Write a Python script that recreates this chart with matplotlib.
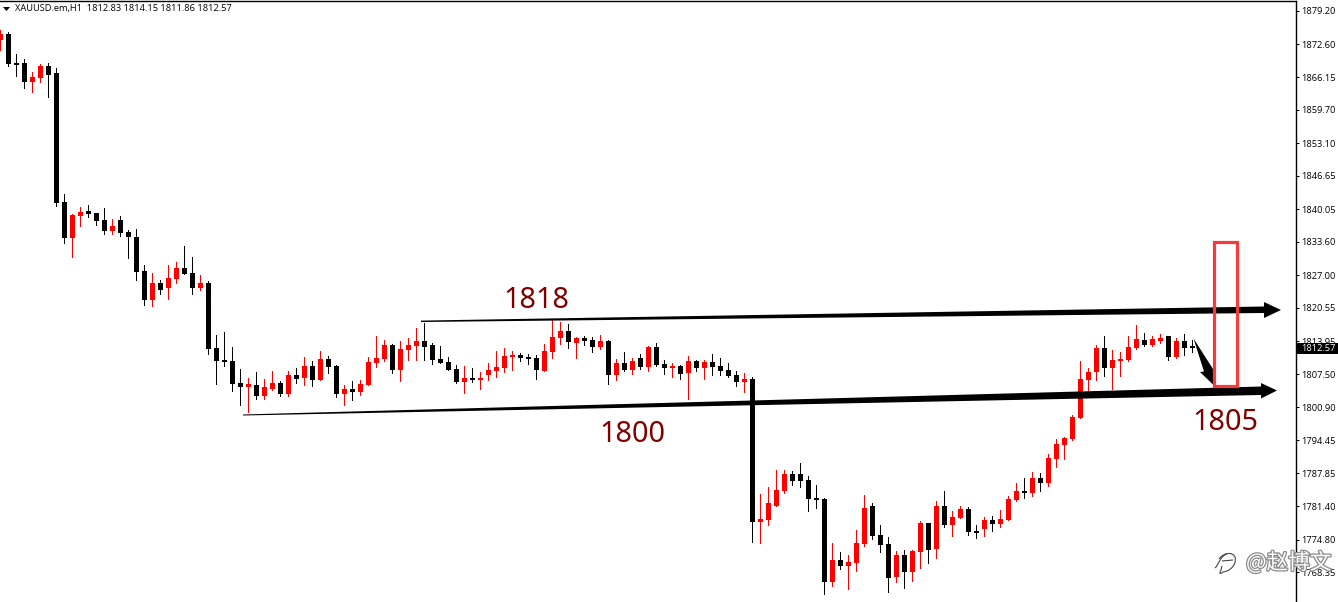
import matplotlib
matplotlib.use("Agg")
import matplotlib.pyplot as plt
from matplotlib.patches import Polygon, Rectangle, PathPatch
from matplotlib.path import Path
import matplotlib.patheffects as pe
import numpy as np

plt.rcParams['font.family'] = ['Open Sans', 'DejaVu Sans']

opens = [
1873.47,1874.66,1868.93,1868.93,1865.18,1865.97,1868.34,1866.95,1841.47,1834.37,
1838.71,1839.70,1839.30,1837.92,1835.75,1837.92,1835.55,1834.56,1827.85,1822.12,
1825.48,1824.50,1826.27,1828.44,1827.45,1824.50,1825.48,1812.64,1810.27,1810.07,
1805.73,1804.94,1805.33,1803.16,1804.55,1805.73,1803.56,1807.31,1806.72,1809.08,
1806.32,1810.47,1809.08,1803.56,1804.55,1803.95,1805.33,1809.68,1810.47,1813.24,
1808.30,1812.25,1813.04,1814.02,1813.24,1810.47,1809.87,1808.49,1805.93,1806.72,
1806.32,1807.31,1808.10,1808.69,1810.86,1811.26,1810.86,1810.67,1808.10,1811.85,
1814.62,1816.00,1813.63,1814.62,1814.22,1812.84,1814.02,1807.31,1809.68,1808.30,
1810.67,1808.89,1812.84,1809.48,1808.69,1809.08,1807.70,1810.07,1808.69,1809.87,
1809.08,1808.30,1807.31,1805.93,1806.52,1778.27,1778.67,1781.44,1784.40,1787.76,
1787.76,1786.57,1783.02,1782.82,1766.43,1770.77,1769.58,1770.18,1773.93,1781.44,
1775.71,1773.93,1767.42,1771.76,1768.40,1772.35,1778.08,1772.95,1781.44,1777.68,
1779.06,1780.85,1776.50,1776.89,1778.67,1777.88,1778.67,1782.62,1784.40,1784.00,
1786.97,1785.98,1790.72,1793.48,1794.67,1798.82,1806.32,1807.90,1812.64,1808.69,
1810.07,1810.27,1812.64,1814.22,1813.24,1814.02,1815.01,1810.86,1814.02,1812.83]
highs = [
1875.45,1875.05,1870.71,1869.72,1867.15,1868.73,1868.93,1867.94,1843.05,1839.10,
1840.49,1840.88,1839.30,1840.29,1838.12,1838.71,1835.95,1836.14,1829.03,1827.45,
1826.07,1829.03,1829.62,1832.79,1830.61,1827.06,1825.87,1815.21,1815.80,1812.84,
1808.49,1806.72,1807.90,1806.52,1808.10,1806.12,1808.10,1808.69,1810.86,1810.07,
1812.05,1811.06,1809.28,1805.33,1806.12,1806.32,1810.86,1815.01,1814.22,1813.43,
1814.02,1814.62,1816.59,1817.58,1813.63,1813.04,1810.86,1809.28,1809.08,1808.69,
1807.90,1809.68,1812.05,1812.64,1812.05,1811.65,1811.46,1811.26,1813.43,1818.17,
1817.77,1817.38,1814.81,1815.01,1814.81,1815.21,1814.22,1810.47,1811.85,1810.67,
1811.46,1813.04,1813.63,1810.27,1809.68,1809.28,1811.06,1810.27,1810.27,1811.46,
1810.67,1809.68,1808.10,1807.70,1806.92,1783.81,1785.19,1788.55,1788.55,1788.35,
1789.93,1787.36,1785.58,1783.02,1774.13,1772.35,1771.76,1776.70,1783.61,1782.03,
1777.68,1775.31,1772.55,1772.75,1772.75,1778.47,1778.08,1782.42,1784.40,1780.45,
1781.44,1781.24,1777.68,1779.26,1779.46,1780.65,1783.41,1785.98,1786.97,1788.15,
1787.95,1791.71,1794.67,1795.06,1799.41,1810.07,1808.69,1813.24,1815.01,1812.25,
1811.85,1815.01,1817.19,1815.60,1815.01,1815.40,1815.01,1814.62,1815.40,1814.15]
lows = [
1871.50,1868.34,1866.36,1863.99,1863.20,1865.18,1862.21,1840.69,1833.38,1830.61,
1836.74,1838.51,1836.93,1835.16,1835.16,1834.76,1830.42,1826.07,1821.13,1820.93,
1823.31,1822.32,1825.48,1827.25,1823.31,1824.10,1811.46,1805.53,1809.08,1804.15,
1801.38,1800.00,1802.57,1802.57,1804.35,1803.16,1803.16,1805.73,1805.33,1805.14,
1806.32,1807.70,1802.96,1801.38,1802.37,1803.36,1805.33,1808.89,1810.07,1807.70,
1806.12,1810.27,1810.27,1810.27,1809.48,1809.68,1808.30,1805.73,1803.75,1805.93,
1804.55,1806.32,1806.92,1807.90,1808.30,1810.07,1809.48,1806.52,1808.10,1810.67,
1813.43,1812.64,1810.67,1813.24,1811.85,1812.45,1805.53,1806.32,1808.10,1807.51,
1808.49,1808.10,1809.08,1807.51,1806.92,1806.52,1802.57,1808.10,1806.52,1807.31,
1807.31,1806.92,1805.14,1803.95,1774.33,1774.13,1777.68,1781.44,1784.00,1785.58,
1785.19,1780.45,1781.04,1764.06,1765.64,1768.99,1765.05,1768.60,1773.54,1774.92,
1772.35,1764.45,1766.43,1765.24,1766.62,1769.19,1770.18,1771.16,1777.29,1775.51,
1779.06,1775.71,1775.12,1775.51,1776.50,1777.29,1778.67,1782.42,1783.02,1783.41,
1784.40,1785.39,1789.14,1790.72,1794.47,1798.82,1803.95,1806.32,1807.11,1804.55,
1807.11,1810.07,1812.45,1813.04,1813.04,1813.63,1810.27,1810.67,1811.26,1811.86]
closes = [
1874.66,1868.73,1868.53,1865.18,1866.16,1868.34,1866.56,1841.28,1834.37,1838.91,
1839.50,1839.11,1837.72,1835.75,1836.74,1835.35,1834.56,1827.65,1822.12,1825.48,
1824.10,1826.47,1828.44,1827.25,1824.50,1825.48,1812.45,1810.07,1809.87,1805.53,
1804.94,1805.53,1803.16,1804.94,1805.73,1803.56,1807.31,1806.52,1809.08,1806.32,
1810.47,1808.89,1803.56,1804.55,1803.95,1805.53,1809.87,1810.67,1813.24,1808.30,
1812.45,1813.24,1814.02,1812.84,1810.27,1809.68,1808.30,1805.93,1806.72,1806.32,
1806.72,1808.30,1808.89,1811.06,1811.26,1810.67,1810.47,1808.30,1812.05,1814.81,
1816.00,1813.83,1814.62,1814.02,1812.84,1814.02,1807.31,1809.68,1808.30,1810.07,
1808.89,1812.84,1809.28,1808.69,1809.08,1807.51,1810.07,1808.69,1809.87,1808.89,
1808.10,1807.11,1805.93,1806.52,1778.27,1778.87,1782.03,1784.60,1787.76,1786.37,
1786.37,1782.82,1782.62,1766.43,1770.77,1769.58,1770.37,1774.13,1781.04,1775.51,
1773.73,1767.22,1771.76,1768.40,1772.55,1778.08,1772.75,1781.44,1777.68,1779.26,
1780.85,1776.30,1776.10,1778.67,1777.88,1778.87,1782.82,1784.40,1784.00,1786.97,
1785.98,1790.92,1793.68,1794.87,1799.01,1806.52,1807.90,1812.64,1808.69,1810.27,
1810.27,1812.84,1814.42,1813.24,1814.42,1814.62,1810.86,1814.02,1812.64,1812.57]

tick_values = [1879.20,1872.60,1866.15,1859.70,1853.10,1846.65,1840.05,1833.60,1827.00,
               1820.55,1813.95,1807.50,1800.90,1794.45,1787.85,1781.40,1774.80,1768.35]
symbol = "XAUUSD.em,H1"
level_labels = ["1818", "1800", "1805"]
watermark = "@赵博文"

W, H = 1338, 602
UP, DOWN = "#ff0000", "#000000"
PX = 72 / 100  # points per pixel
SMALL = 6.7

fig = plt.figure(figsize=(W / 100, H / 100), dpi=100, facecolor="white")
ax = fig.add_axes([0, 0, 1295.5 / W, 601 / H])
ax.set_xlim(-0.0375, 161.9)
ax.set_ylim(1762.47, 1881.17)

idx = np.arange(len(opens))
o, h, l, c = map(np.array, (opens, highs, lows, closes))
colors = [UP if b >= a else DOWN for a, b in zip(o, c)]
wicks = ax.vlines(idx, l, h, colors=colors, linewidth=0.8 * PX, antialiased=False, zorder=2)
wicks.set_snap(True)
body_bottom = np.minimum(o, c)
body_height = np.maximum(np.abs(c - o), 0.38)
ax.bar(idx, body_height, bottom=body_bottom, width=0.66, color=colors,
       linewidth=0, antialiased=False, zorder=3)

for s in ("left", "bottom"):
    ax.spines[s].set_visible(False)
for s in ("top", "right"):
    ax.spines[s].set_linewidth(1.4 * PX)
ax.yaxis.tick_right()
ax.set_xticks([])
ax.set_yticks(tick_values)
ax.set_yticklabels([f"{v:.2f}" for v in tick_values], fontsize=SMALL, color="black")
ax.tick_params(axis="y", length=3 * PX, width=1 * PX, pad=2.2 * PX)

# Pixel-space overlay for the hand-drawn annotations
ov = fig.add_axes([0, 0, 1, 1], facecolor="none")
ov.set_xlim(0, W)
ov.set_ylim(H, 0)
ov.axis("off")

arrow_up = [(421, 320.6), (1264, 306.5), (1264, 302), (1281, 310), (1264, 318), (1264, 313), (421, 322)]
arrow_low = [(243, 414.5), (1261, 386.5), (1261, 383), (1277, 390.5), (1261, 398.5), (1261, 395), (243, 415.5)]
arrow_small = [(1193.5, 338.5), (1204, 371.5), (1200, 372), (1213, 384.5), (1213, 369)]
for pts in (arrow_up, arrow_low, arrow_small):
    ov.add_patch(Polygon(pts, closed=True, fc="black", ec="none", zorder=4))

ov.add_patch(Rectangle((1213.5, 241.5), 23, 144, fill=False, ec="#f53b3b",
                       lw=3.2 * PX, joinstyle="miter", zorder=5))

for txt, (x, y) in zip(level_labels, [(503.5, 300), (599.5, 434), (1192.5, 422)]):
    ov.text(x, y, txt, fontsize=20.8, color="#800000", family="Noto Sans",
            ha="left", va="center", zorder=6)

# Header
ov.add_patch(Polygon([(3, 7), (10, 7), (6.5, 11)], closed=True, fc="black", ec="none"))
ov.text(15, 9, f"{symbol}  {o[-1]:.2f} {h[-1]:.2f} {l[-1]:.2f} {c[-1]:.2f}",
        fontsize=SMALL, color="black", ha="left", va="center", zorder=6)

# Current price tag
ov.add_patch(Rectangle((1296, 343), 42, 11, fc="black", ec="none", zorder=6))
ov.text(1301, 348.5, f"{c[-1]:.2f}", fontsize=SMALL, color="white", ha="left",
        va="center", zorder=7)

# Watermark
glow = [pe.withStroke(linewidth=1.8, foreground="#8a8a8a")]
ov.text(1246, 563, watermark, fontsize=15.6, color="white",
        family=["Noto Sans CJK SC", "DejaVu Sans"], ha="left", va="center",
        path_effects=glow, zorder=8)
logo = Path([(1219, 559), (1224, 552), (1233, 552), (1235, 557), (1237, 565), (1230, 571), (1223, 572),
             (1218, 576), (1221, 570), (1222, 566)],
            [Path.MOVETO, Path.CURVE4, Path.CURVE4, Path.CURVE4, Path.CURVE4, Path.CURVE4, Path.CURVE4,
             Path.CURVE3, Path.CURVE3, Path.LINETO])
ov.add_patch(PathPatch(logo, fill=False, ec="#444444", lw=1.1 * PX, zorder=8))
f_stroke = Path([(1215, 568), (1218, 566), (1220, 556), (1227, 554), (1222, 561), (1233, 560)],
                [Path.MOVETO, Path.CURVE4, Path.CURVE4, Path.CURVE4, Path.MOVETO, Path.LINETO])
ov.add_patch(PathPatch(f_stroke, fill=False, ec="#444444", lw=1.1 * PX, zorder=8))

fig.savefig("out.png", dpi=100)
